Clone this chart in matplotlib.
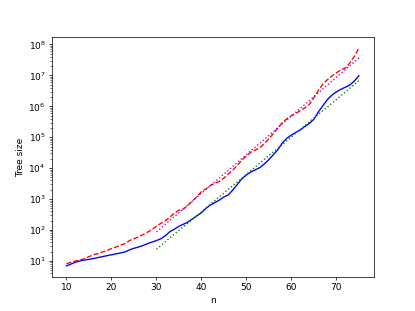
import numpy as np
import matplotlib
matplotlib.use("Agg")
import matplotlib.pyplot as plt

n_full = list(range(10, 76))
blue_log = [0.84, 0.90, 0.96, 1.00, 1.03, 1.05, 1.08, 1.11, 1.14, 1.17,
            1.20, 1.23, 1.26, 1.29, 1.36, 1.41, 1.45, 1.50, 1.56, 1.61,
            1.66, 1.72, 1.82, 1.95, 2.03, 2.12, 2.19, 2.26, 2.36, 2.46,
            2.56, 2.70, 2.81, 2.89, 2.97, 3.07, 3.14, 3.30, 3.48, 3.66,
            3.78, 3.88, 3.95, 4.02, 4.14, 4.28, 4.44, 4.60, 4.82, 4.97,
            5.07, 5.16, 5.24, 5.35, 5.45, 5.58, 5.82, 6.02, 6.22, 6.36,
            6.47, 6.55, 6.62, 6.69, 6.82, 6.99]
red_log = [0.91, 0.96, 1.00, 1.03, 1.07, 1.14, 1.20, 1.24, 1.29, 1.34,
           1.40, 1.45, 1.51, 1.56, 1.66, 1.72, 1.78, 1.85, 1.93, 2.02,
           2.12, 2.22, 2.30, 2.42, 2.55, 2.64, 2.68, 2.80, 2.94, 3.08,
           3.24, 3.33, 3.44, 3.52, 3.57, 3.68, 3.82, 3.94, 4.10, 4.26,
           4.40, 4.52, 4.59, 4.66, 4.80, 4.95, 5.12, 5.30, 5.48, 5.60,
           5.70, 5.77, 5.86, 5.95, 6.07, 6.28, 6.52, 6.72, 6.86, 6.98,
           7.08, 7.18, 7.24, 7.40, 7.62, 7.88]
n_fit = [30, 35, 40, 45, 50, 55, 60, 65, 70, 75]
magenta_log = [1.94, 2.56, 3.19, 3.81, 4.44, 5.06, 5.69, 6.31, 6.94, 7.56]
green_log = [1.38, 1.99, 2.59, 3.20, 3.80, 4.41, 5.01, 5.62, 6.22, 6.83]

fig, ax = plt.subplots(figsize=(415/65, 311/65), dpi=65)
ax.plot(n_full, 10**np.array(blue_log), 'b-')
ax.plot(n_full, 10**np.array(red_log), 'r--')
ax.plot(n_fit, 10**np.array(magenta_log), 'm:')
ax.plot(n_fit, 10**np.array(green_log), 'g:')
ax.set_yscale('log')
ax.set_xlabel('n')
ax.set_ylabel('Tree size')
fig.savefig('out.png', dpi=65)
